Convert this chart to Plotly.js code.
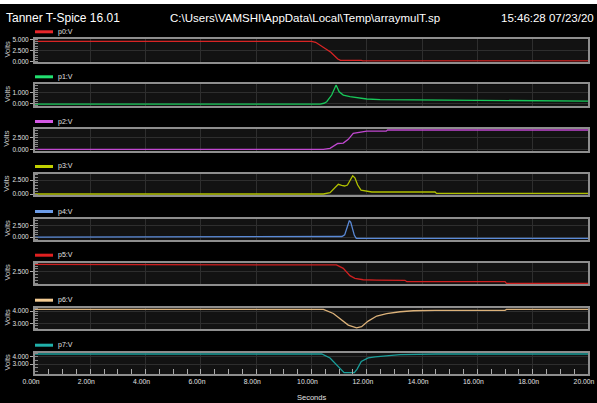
<!DOCTYPE html>
<html>
<head>
<meta charset="utf-8">
<script src="https://cdn.plot.ly/plotly-3.0.1.min.js"></script>
<style>html,body{margin:0;padding:0;background:#000;}#chart{width:597px;height:403px;}</style>
</head>
<body>
<div id="chart"></div>
<script>
// ---- data (time in ns, value in volts) ----
const signalNames = ['p0:V','p1:V','p2:V','p3:V','p4:V','p5:V','p6:V','p7:V'];

const p0T = [0, 10.0, 10.15, 10.4, 10.7, 10.95, 11.05, 11.8, 11.85, 20];
const p0V = [4.55, 4.55, 4.35, 3.4, 2.1, 0.6, 0.28, 0.28, 0.18, 0.18];

const p1T = [0, 10.31, 10.45, 10.55, 10.73, 10.89, 11.0, 11.15, 11.39, 11.75, 12.0, 12.48, 14.5, 14.55, 19.05, 19.1, 20];
const p1V = [-0.05, -0.05, 0.02, 0.16, 0.77, 1.68, 1.07, 0.77, 0.62, 0.47, 0.41, 0.35, 0.33, 0.27, 0.27, 0.22, 0.22];

const p2T = [0, 10.43, 10.67, 10.85, 10.95, 11.15, 11.33, 11.51, 11.75, 12.0, 12.7, 12.75, 20];
const p2V = [0, 0, 0.2, 1.0, 1.25, 1.35, 2.15, 3.45, 3.7, 3.9, 3.9, 4.15, 4.15];

const p3T = [0, 10.43, 10.67, 10.85, 10.97, 11.09, 11.2, 11.3, 11.37, 11.49, 11.57, 11.67, 11.79, 12.05, 12.18, 14.47, 14.52, 20];
const p3V = [0, 0, 0.23, 1.2, 1.73, 1.55, 1.43, 1.6, 2.2, 3.27, 2.9, 1.6, 0.7, 0.53, 0.36, 0.36, 0.12, 0.12];

const p4T = [0, 10.97, 11.1, 11.2, 11.27, 11.33, 11.37, 11.42, 11.48, 11.55, 11.62, 20];
const p4V = [0, 0.05, 0.15, 0.5, 1.8, 3.2, 3.57, 3.2, 1.8, 0.4, -0.25, -0.25];

const p5T = [0, 10.75, 10.9, 11.15, 11.39, 11.57, 11.87, 12.36, 13.38, 13.45, 17.0, 17.05, 20];
const p5V = [3.82, 3.82, 3.7, 3.1, 1.82, 1.36, 1.1, 1.05, 1.0, 0.76, 0.76, 0.47, 0.47];

const p6T = [0, 10.43, 10.79, 11.09, 11.33, 11.63, 11.81, 12.05, 12.36, 12.72, 13.2, 13.68, 14.47, 17.0, 17.05, 20];
const p6V = [4.13, 4.13, 3.8, 3.26, 2.85, 2.63, 2.72, 3.18, 3.59, 3.78, 3.94, 4.02, 4.05, 4.06, 4.13, 4.13];

const p7T = [0, 10.37, 10.67, 10.91, 11.09, 11.18, 11.55, 11.65, 11.8, 12.05, 12.3, 12.72, 13.2, 14.5, 20];
const p7V = [4.42, 4.42, 3.86, 2.9, 2.09, 1.8, 1.8, 2.3, 3.37, 3.86, 4.02, 4.19, 4.33, 4.42, 4.42];

const xTickVals = [0, 2, 4, 6, 8, 10, 12, 14, 16, 18, 20];
const xTickText = ['0.00n','2.00n','4.00n','6.00n','8.00n','10.00n','12.00n','14.00n','16.00n','18.00n','20.00n'];

const yTickVals = [[0, 2.5, 5], [0, 1], [0, 2.5], [0, 2.5], [0, 2.5], [2.5], [3, 4], [3, 4]];
const yTickText = [['0.000','2.500','5.000'], ['0.000','1.000'], ['0.000','2.500'], ['0.000','2.500'], ['0.000','2.500'], ['2.500'], ['3.000','4.000'], ['3.000','4.000']];
const yRanges = [[0, 5.02], [-0.23, 1.75], [-0.3, 4.37], [-0.23, 3.57], [-0.6, 3.9], [0.3, 4.1], [2.51, 4.27], [1.57, 4.6]];
const yMinorStep = [0.5, 0.2, 0.5, 0.5, 0.5, 0.5, 0.2, 0.5];

const lineColors = ['#d82424', '#18c85a', '#c048d0', '#b0c000', '#5a8ad8', '#d02020', '#dcb27a', '#1a9e9a'];
const swatchColors = ['#e8262b', '#22e070', '#d458e4', '#c0d000', '#6c9ce8', '#e02020', '#f4cc94', '#20b0aa'];

const allT = [p0T, p1T, p2T, p3T, p4T, p5T, p6T, p7T];
const allV = [p0V, p1V, p2V, p3V, p4V, p5V, p6V, p7V];

// ---- geometry (pixels) ----
const W = 597, H = 403;
const panelTops = [39.3, 84.3, 129, 174, 219, 262.7, 307.7, 352.7];
const panelBots = [61.7, 106, 150.7, 195.3, 240, 284.3, 329.3, 374.3];
const xLeft = 35, xRight = 588;
const fx = px => px / W;
const fy = py => 1 - py / H;

const FONT = 'Liberation Sans, Arial, sans-serif';

const data = [];
const layout = {
  width: W, height: H,
  margin: {l: 0, r: 0, t: 0, b: 0, pad: 0},
  paper_bgcolor: '#000',
  plot_bgcolor: '#121212',
  showlegend: false,
  font: {family: FONT, color: '#e0e0e0'},
  shapes: [],
  annotations: []
};

for (let i = 0; i < 8; i++) {
  const s = i === 0 ? '' : String(i + 1);
  data.push({
    x: allT[i], y: allV[i],
    xaxis: 'x' + s, yaxis: 'y' + s,
    type: 'scatter', mode: 'lines',
    line: {color: lineColors[i], width: 1.3},
    hoverinfo: 'skip'
  });
  const last = i === 7;
  layout['xaxis' + s] = {
    domain: [fx(xLeft), fx(xRight)],
    anchor: 'y' + s,
    range: [0, 20],
    tickmode: 'array', tickvals: xTickVals, ticktext: xTickText,
    showticklabels: last,
    ticklabeloverflow: 'allow',
    ticklabelshift: -4,
    ticks: last ? 'inside' : '',
    ticklen: 5, tickcolor: '#aaa', tickwidth: 1,
    minor: last ? {tickmode: 'linear', tick0: 0, dtick: 0.5, ticks: 'inside', ticklen: 5, tickcolor: '#aaa', showgrid: false} : {ticks: ''},
    tickfont: {family: FONT, size: 6.8, color: '#e0e0e0'},
    showgrid: true, gridcolor: '#2e2e2e', gridwidth: 1,
    zeroline: false,
    showline: true, mirror: true, linecolor: '#8e8e8e', linewidth: 2,
    fixedrange: true
  };
  layout['yaxis' + s] = {
    domain: [fy(panelBots[i]), fy(panelTops[i])],
    anchor: 'x' + s,
    range: yRanges[i],
    tickmode: 'array', tickvals: yTickVals[i], ticktext: yTickText[i],
    ticklabeloverflow: 'allow',
    ticks: 'outside', ticklen: 3, tickcolor: '#aaa', tickwidth: 1,
    minor: {tickmode: 'linear', tick0: 0, dtick: yMinorStep[i], ticks: 'inside', ticklen: 3, tickcolor: '#888', showgrid: false},
    tickfont: {family: FONT, size: 6.5, color: '#e0e0e0'},
    showgrid: true, gridcolor: '#2e2e2e', gridwidth: 1,
    zeroline: false,
    showline: true, mirror: true, linecolor: '#8e8e8e', linewidth: 2,
    fixedrange: true
  };
  // signal label swatch + name
  const ly = panelTops[i] - 7.5;
  layout.shapes.push({
    type: 'line', xref: 'paper', yref: 'paper',
    x0: fx(35), x1: fx(53), y0: fy(ly), y1: fy(ly),
    line: {color: swatchColors[i], width: 3}
  });
  layout.annotations.push({
    xref: 'paper', yref: 'paper', x: fx(56), y: fy(ly),
    xanchor: 'left', yanchor: 'middle', showarrow: false,
    text: signalNames[i], font: {family: FONT, size: 7, color: '#e0e0e0'}
  });
  layout.annotations.push({
    xref: 'paper', yref: 'paper', x: fx(7), y: fy((panelTops[i] + panelBots[i]) / 2 - 1),
    xanchor: 'center', yanchor: 'middle', showarrow: false, textangle: -90,
    text: 'Volts', font: {family: FONT, size: 7.5, color: '#cfcfcf'}
  });
}

// white strip at the very top of the screenshot
layout.shapes.push({type: 'rect', xref: 'paper', yref: 'paper', x0: 0, x1: 1, y0: fy(4), y1: 1,
  fillcolor: '#ffffff', line: {width: 0}, layer: 'below'});

// header texts
layout.annotations.push({xref: 'paper', yref: 'paper', x: fx(4), y: fy(17.5), xanchor: 'left', yanchor: 'middle',
  showarrow: false, text: 'Tanner T-Spice 16.01', font: {family: FONT, size: 12, color: '#ffffff'}});
layout.annotations.push({xref: 'paper', yref: 'paper', x: fx(168), y: fy(17.5), xanchor: 'left', yanchor: 'middle',
  showarrow: false, text: 'C:\\Users\\VAMSHI\\AppData\\Local\\Temp\\arraymulT.sp', font: {family: FONT, size: 11.5, color: '#ffffff'}});
layout.annotations.push({xref: 'paper', yref: 'paper', x: fx(596), y: fy(17.5), xanchor: 'right', yanchor: 'middle',
  showarrow: false, text: '15:46:28 07/23/20', font: {family: FONT, size: 11.5, color: '#ffffff'}});
layout.annotations.push({xref: 'paper', yref: 'paper', x: fx(311), y: fy(397.5), xanchor: 'center', yanchor: 'middle',
  showarrow: false, text: 'Seconds', font: {family: FONT, size: 7.5, color: '#e0e0e0'}});

Plotly.newPlot('chart', data, layout, {staticPlot: true, displayModeBar: false});
</script>
</body>
</html>
